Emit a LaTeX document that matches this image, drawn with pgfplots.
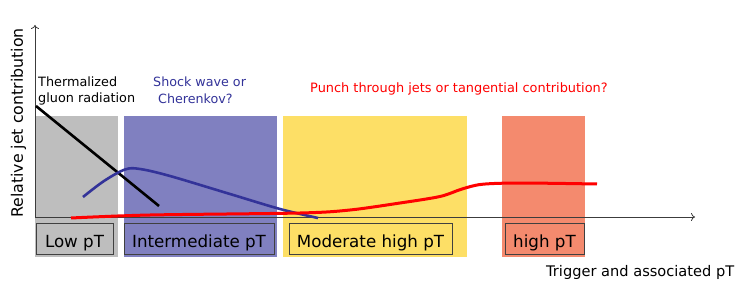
\documentclass[border=0pt]{standalone}
\usepackage{pgfplots}
\pgfplotsset{compat=1.18}
\usetikzlibrary{arrows.meta}
\usepackage{fontspec}
\setmainfont{DejaVu Sans}
\definecolor{cgray}{RGB}{190,190,190}
\definecolor{cblue}{RGB}{128,128,192}
\definecolor{cyellow}{RGB}{253,223,102}
\definecolor{csalmon}{RGB}{244,138,110}
\definecolor{dblue}{RGB}{51,51,153}
\definecolor{edge}{RGB}{64,64,64}
\definecolor{axc}{RGB}{60,60,60}
\begin{document}
\begin{tikzpicture}[every node/.style={inner sep=0pt}]
\begin{axis}[scale only axis, width=747pt, height=302pt,
  xmin=0, xmax=747, ymin=0, ymax=302, y dir=reverse, hide axis, clip=false]
% background
\addplot[draw=none, fill=white] coordinates {(0,0)(747,0)(747,302)(0,302)} -- cycle;
% region rectangles
\addplot[draw=none, fill=cgray] coordinates {(35,116)(118,116)(118,257)(35,257)} -- cycle;
\addplot[draw=none, fill=cblue] coordinates {(124,116)(277,116)(277,257)(124,257)} -- cycle;
\addplot[draw=none, fill=cyellow] coordinates {(283,116)(467,116)(467,257)(283,257)} -- cycle;
\addplot[draw=none, fill=csalmon] coordinates {(502,116)(585,116)(585,257)(502,257)} -- cycle;
% label boxes
\addplot[draw=edge, line width=0.9pt] coordinates {(36,223)(113,223)(113,254)(36,254)} -- cycle;
\addplot[draw=edge, line width=0.9pt] coordinates {(124,223)(274,223)(274,254)(124,254)} -- cycle;
\addplot[draw=edge, line width=0.9pt] coordinates {(289,223)(452,223)(452,254)(289,254)} -- cycle;
\addplot[draw=edge, line width=0.9pt] coordinates {(505,223)(584,223)(584,254)(505,254)} -- cycle;
% axes arrows
\addplot[draw=axc, line width=0.8pt, -{To[length=4pt,width=8pt]}] coordinates {(35,218)(35,25)};
\addplot[draw=axc, line width=0.8pt, -{To[length=4pt,width=8pt]}] coordinates {(35,217)(695,217)};
% black line
\addplot[black, line width=2.6pt] coordinates {(36,106)(159,206)};
% blue curve
\addplot[dblue, line width=2.6pt, smooth, tension=0.55] coordinates {(83,197)(104,181)(125,169.5)(140,169)(170,176)(230,194)(280,209)(318,218)};
% red curve
\addplot[red, line width=3pt, smooth, tension=0.5] coordinates {(71,218)(150,215)(300,213)(350,210)(400,203)(440,196.5)(462,189)(482,184.3)(520,183)(597,184)};
% texts
\node[anchor=base west, font=\fontsize{12.8}{15}\selectfont] at (axis cs:38,87) {Thermalized};
\node[anchor=base west, font=\fontsize{12.8}{15}\selectfont] at (axis cs:38,103) {gluon radiation};
\node[anchor=base west, text=dblue, font=\fontsize{12.7}{15}\selectfont] at (axis cs:153,87) {Shock wave or};
\node[anchor=base west, text=dblue, font=\fontsize{12.7}{15}\selectfont] at (axis cs:158,104) {Cherenkov?};
\node[anchor=base west, text=red, font=\fontsize{12.9}{15}\selectfont] at (axis cs:310,93) {Punch through jets or tangential contribution?};
\node[anchor=base, font=\fontsize{16.7}{18}\selectfont] at (axis cs:74.5,247) {Low pT};
\node[anchor=base, font=\fontsize{16.7}{18}\selectfont] at (axis cs:199,247) {Intermediate pT};
\node[anchor=base, font=\fontsize{16.7}{18}\selectfont] at (axis cs:370.5,247) {Moderate high pT};
\node[anchor=base, font=\fontsize{16.7}{18}\selectfont] at (axis cs:544.5,247) {high pT};
\node[anchor=base west, font=\fontsize{14.6}{16}\selectfont] at (axis cs:546,276) {Trigger and associated pT};
\node[anchor=base, rotate=90, font=\fontsize{15.8}{18}\selectfont] at (axis cs:23,123) {Relative jet contribution};
\end{axis}
\end{tikzpicture}
\end{document}
